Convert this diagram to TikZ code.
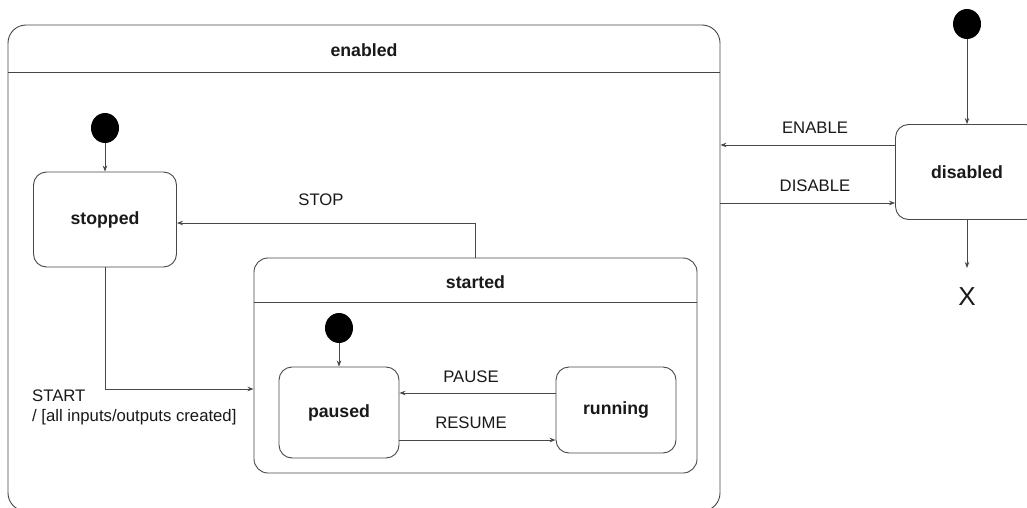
\documentclass[tikz,border=0pt]{standalone}
\usepackage{fontspec}
\setmainfont{Liberation Sans}
\usetikzlibrary{arrows.meta,shapes.geometric}
\newcommand\mylblfont{\fontsize{16.7}{20}\selectfont}
\newcommand\mytitlefont{\fontsize{17.7}{21}\selectfont\bfseries}
\newcommand\myxfont{\fontsize{26}{30}\selectfont}
\begin{document}
\begin{tikzpicture}[x=1pt,y=-1pt,
  linec/.style={draw=black!72, line width=0.9pt},
  container/.style={linec, inner sep=0pt},
  statebox/.style={linec, rounded corners=13pt, inner sep=0pt, font=\mytitlefont, text=black!90},
  titlelbl/.style={font=\mytitlefont, text=black!90, inner sep=0pt},
  initial/.style={ellipse, fill=black, minimum width=28pt, minimum height=30pt, inner sep=0pt},
  arr/.style={draw=black!72, line width=0.8pt, -{Stealth[length=6pt,width=4.5pt]}},
  lbl/.style={font=\mylblfont, text=black!90, inner sep=0pt}]
\useasboundingbox (0,0) rectangle (1027,508);
\fill[white] (0,0) rectangle (1027,508);

% enabled container
\node[container, rounded corners=18pt, minimum width=712pt, minimum height=486pt] (enabled) at (364,268) {};
\node[titlelbl] (enabledT) at (364,50) {enabled};
\draw[linec] (enabled.west |- 0,72) -- (enabled.east |- 0,72);

% stopped
\node[initial] (i1) at (105,128) {};
\node[statebox, minimum width=143pt, minimum height=95pt] (stopped) at (105,219.5) {stopped};
\draw[arr] (i1) -- (stopped);

% started container
\node[container, rounded corners=14pt, minimum width=443pt, minimum height=215pt] (started) at (475.5,365.5) {};
\node[titlelbl] (startedT) at (475.5,282) {started};
\draw[linec] (started.west |- 0,302) -- (started.east |- 0,302);

\node[initial] (i2) at (339,328) {};
\node[statebox, minimum width=120pt, minimum height=91pt] (paused) at (339,412.5) {paused};
\node[statebox, minimum width=120pt, minimum height=86pt] (running) at (616,410) {running};
\draw[arr] (i2) -- (paused);
\draw[arr] (running.west |- 0,393) -- (paused.east |- 0,393);
\node[lbl] (pauseL) at (471,377) {PAUSE};
\draw[arr] (paused.east |- 0,440) -- (running.west |- 0,440);
\node[lbl] (resumeL) at (471,423) {RESUME};

% STOP
\draw[arr] (started.north) |- (stopped.east |- 0,223);
\node[lbl] (stopL) at (321,200) {STOP};

% START
\draw[arr] (stopped.south) |- (started.west |- 0,389);
\node[lbl, align=left, anchor=west] (startL) at (32,407) {START\\/ [all inputs/outputs created]};

% disabled
\node[initial] (i3) at (967,24) {};
\node[statebox, minimum width=143pt, minimum height=95pt] (disabled) at (967,172) {disabled};
\draw[arr] (i3) -- (disabled);
\draw[arr] (disabled.west |- 0,145) -- (enabled.east |- 0,145);
\node[lbl] (enableL) at (815,128) {ENABLE};
\draw[arr] (enabled.east |- 0,203) -- (disabled.west |- 0,203);
\node[lbl] (disableL) at (815,186) {DISABLE};

\node[font=\myxfont, text=black!90, inner sep=0pt] (final) at (967,297) {X};
\draw[arr] (disabled) -- (disabled.south |- 0,268);
\end{tikzpicture}
\end{document}
